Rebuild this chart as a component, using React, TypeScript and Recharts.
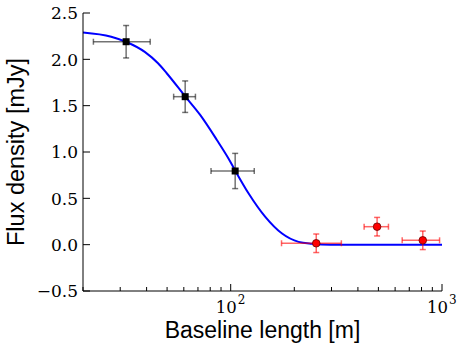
import { ComposedChart, Line, Scatter, ErrorBar, XAxis, YAxis, Label } from 'recharts';

// fitted model curve
const curveX = [20, 27.2, 32.1, 39.2, 45.3, 49.8, 60.9, 71.7, 86, 97.6, 105, 121.4, 145.8, 175, 209.6, 242.7, 296, 400, 600, 1000];
const curveY = [2.29, 2.244, 2.187, 2.08, 1.957, 1.85, 1.6, 1.4, 1.13, 0.93, 0.8, 0.555, 0.3, 0.12, 0.03, 0.01, 0, 0, 0, 0];

// black squares (detections)
const detX = [32, 60.9, 105];
const detY = [2.19, 1.597, 0.795];
const detXErr = [9.6, 7.2, 24.3];
const detYErr = [0.175, 0.17, 0.19];

// red circles
const redX = [254, 493, 811];
const redY = [0.015, 0.194, 0.047];
const redXErr = [80, 65, 163];
const redYErr = [0.1, 0.1, 0.1];

const xTicks = [20, 30, 40, 50, 60, 70, 80, 90, 100, 200, 300, 400, 500, 600, 700, 800, 900, 1000];
const yTicks = [-0.5, 0, 0.5, 1, 1.5, 2, 2.5];

const curve = curveX.map((x, i) => ({ x, y: curveY[i] }));
const det = detX.map((x, i) => ({ x, y: detY[i], ex: [detXErr[i], detXErr[i]], ey: [detYErr[i], detYErr[i]] }));
const red = redX.map((x, i) => ({ x, y: redY[i], ex: [redXErr[i], redXErr[i]], ey: [redYErr[i], redYErr[i]] }));

const serif = '"DejaVu Serif", serif';
const sans = '"Liberation Sans", Arial, sans-serif';
const isMajor = (v: number) => v === 100 || v === 1000;

function BottomTick({ x, y, payload }: any) {
  const v = payload.value;
  const len = isMajor(v) ? 7 : 4;
  return (
    <g>
      <line x1={x} y1={y} x2={x} y2={y - len} stroke="#000" />
      {isMajor(v) && (
        <g fontFamily={serif} fill="#000">
          <text x={x + 6} y={y + 22} textAnchor="end" fontSize={16.5}>10</text>
          <text x={x + 7} y={y + 13} textAnchor="start" fontSize={12}>{v === 100 ? '2' : '3'}</text>
        </g>
      )}
    </g>
  );
}

function TopTick({ x, y, payload }: any) {
  const len = isMajor(payload.value) ? 7 : 4;
  return <line x1={x} y1={y} x2={x} y2={y + len} stroke="#000" />;
}

function LeftTick({ x, y, payload }: any) {
  const label = payload.value.toFixed(1).replace('-', '\u2212');
  return (
    <g>
      <line x1={x} y1={y} x2={x + 7} y2={y} stroke="#000" />
      <text x={x - 5} y={y + 6.3} textAnchor="end" fontFamily={serif} fontSize={17} fill="#000">{label}</text>
    </g>
  );
}

function RightTick({ x, y }: any) {
  return <line x1={x} y1={y} x2={x - 7} y2={y} stroke="#000" />;
}

const Square = ({ cx, cy }: any) => <rect x={cx - 3.5} y={cy - 3.5} width={7} height={7} fill="#000" />;
const Dot = ({ cx, cy }: any) => <circle cx={cx} cy={cy} r={3.8} fill="#ff0000" stroke="#600" strokeWidth={0.8} />;

export default function App() {
  return (
    <div style={{ position: 'absolute', left: 0, top: 0, background: '#fff' }}>
      <ComposedChart width={463} height={347} margin={{ top: 13, right: 21, bottom: 0, left: 0 }}>
        <XAxis
          xAxisId="b" dataKey="x" type="number" scale="log" domain={[20, 1000]} allowDataOverflow
          ticks={xTicks} interval={0} tickSize={0} tickMargin={0} tickLine={false}
          tick={<BottomTick />} height={56} axisLine={{ stroke: '#000' }}
        >
          <Label
            content={({ viewBox }: any) => (
              <text x={viewBox.x + viewBox.width / 2} y={338} textAnchor="middle" fontFamily={sans} fontSize={23} fill="#000">
                Baseline length [m]
              </text>
            )}
          />
        </XAxis>
        <XAxis
          xAxisId="t" orientation="top" dataKey="x" type="number" scale="log" domain={[20, 1000]} allowDataOverflow
          ticks={xTicks} interval={0} tickSize={0} tickMargin={0} tickLine={false}
          tick={<TopTick />} height={0} axisLine={{ stroke: '#000' }}
        />
        <YAxis
          yAxisId="l" type="number" domain={[-0.5, 2.5]} allowDataOverflow ticks={yTicks} interval={0}
          tickSize={0} tickMargin={0} tickLine={false} tick={<LeftTick />} width={83} axisLine={{ stroke: '#000' }}
        >
          <Label
            content={({ viewBox }: any) => {
              const cy = viewBox.y + viewBox.height / 2;
              return (
                <text x={24} y={cy} transform={`rotate(-90, 24, ${cy})`} textAnchor="middle" fontFamily={sans} fontSize={23.5} fill="#000">
                  Flux density [mJy]
                </text>
              );
            }}
          />
        </YAxis>
        <YAxis
          yAxisId="r" orientation="right" type="number" domain={[-0.5, 2.5]} allowDataOverflow ticks={yTicks} interval={0}
          tickSize={0} tickMargin={0} tickLine={false} tick={<RightTick />} width={0} axisLine={{ stroke: '#000' }}
        />
        <Line
          xAxisId="b" yAxisId="l" data={curve} dataKey="y" type="monotone" stroke="#0000ff" strokeWidth={2}
          dot={false} activeDot={false} isAnimationActive={false}
        />
        <Scatter xAxisId="b" yAxisId="l" data={det} dataKey="y" shape={<Square />} isAnimationActive={false}>
          <ErrorBar dataKey="ex" direction="x" width={3} stroke="#000" strokeOpacity={0.55} strokeWidth={1.5} isAnimationActive={false} />
          <ErrorBar dataKey="ey" direction="y" width={3} stroke="#000" strokeOpacity={0.55} strokeWidth={1.5} isAnimationActive={false} />
        </Scatter>
        <Scatter xAxisId="b" yAxisId="l" data={red} dataKey="y" shape={<Dot />} isAnimationActive={false}>
          <ErrorBar dataKey="ex" direction="x" width={3} stroke="#ff0000" strokeOpacity={0.6} strokeWidth={1.5} isAnimationActive={false} />
          <ErrorBar dataKey="ey" direction="y" width={3} stroke="#ff0000" strokeOpacity={0.6} strokeWidth={1.5} isAnimationActive={false} />
        </Scatter>
      </ComposedChart>
    </div>
  );
}
